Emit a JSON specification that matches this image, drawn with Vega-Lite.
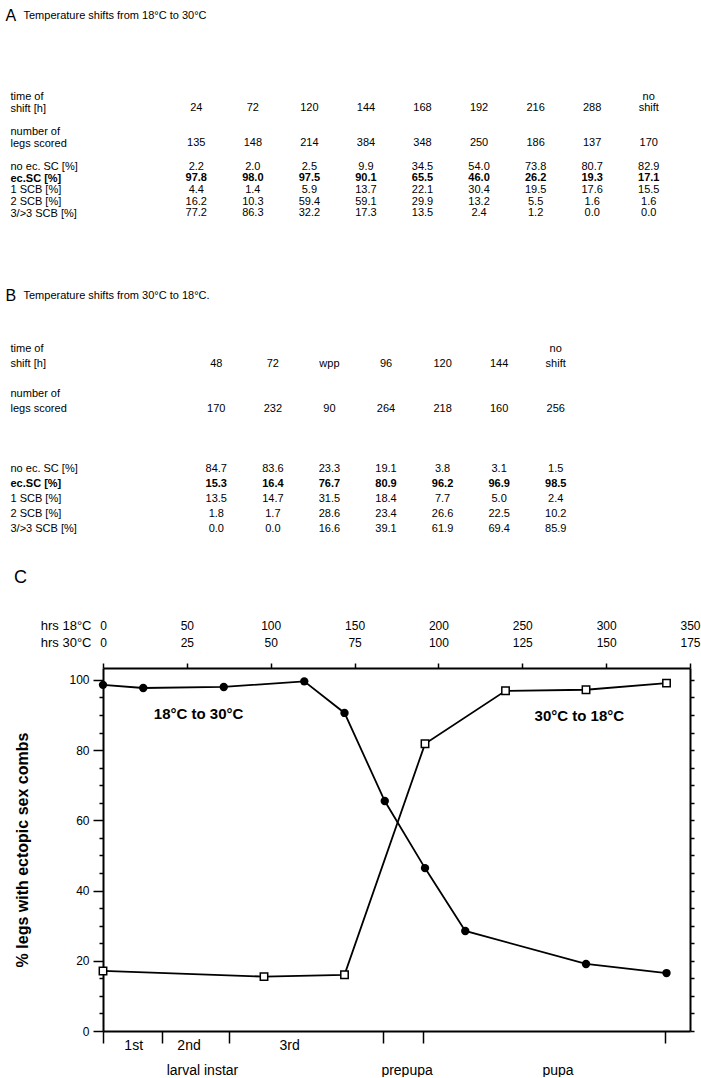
{
  "$schema": "https://vega.github.io/schema/vega-lite/v6.json",
  "padding": {"left": 5, "top": 7, "right": 0, "bottom": 0},
  "background": "white",
  "spacing": 33,
  "config": {
    "font": "Liberation Sans",
    "view": {"stroke": null},
    "axis": {"domainColor": "black", "tickColor": "black", "labelColor": "black", "titleColor": "black", "grid": false}
  },
  "datasets": {
    "tabA": [
      {"col": "24", "hdr0": "", "hdr": "24", "n": "135", "noec": "2.2", "ec": "97.8", "s1": "4.4", "s2": "16.2", "s3": "77.2"},
      {"col": "72", "hdr0": "", "hdr": "72", "n": "148", "noec": "2.0", "ec": "98.0", "s1": "1.4", "s2": "10.3", "s3": "86.3"},
      {"col": "120", "hdr0": "", "hdr": "120", "n": "214", "noec": "2.5", "ec": "97.5", "s1": "5.9", "s2": "59.4", "s3": "32.2"},
      {"col": "144", "hdr0": "", "hdr": "144", "n": "384", "noec": "9.9", "ec": "90.1", "s1": "13.7", "s2": "59.1", "s3": "17.3"},
      {"col": "168", "hdr0": "", "hdr": "168", "n": "348", "noec": "34.5", "ec": "65.5", "s1": "22.1", "s2": "29.9", "s3": "13.5"},
      {"col": "192", "hdr0": "", "hdr": "192", "n": "250", "noec": "54.0", "ec": "46.0", "s1": "30.4", "s2": "13.2", "s3": "2.4"},
      {"col": "216", "hdr0": "", "hdr": "216", "n": "186", "noec": "73.8", "ec": "26.2", "s1": "19.5", "s2": "5.5", "s3": "1.2"},
      {"col": "288", "hdr0": "", "hdr": "288", "n": "137", "noec": "80.7", "ec": "19.3", "s1": "17.6", "s2": "1.6", "s3": "0.0"},
      {"col": "none", "hdr0": "no", "hdr": "shift", "n": "170", "noec": "82.9", "ec": "17.1", "s1": "15.5", "s2": "1.6", "s3": "0.0"}
    ],
    "tabB": [
      {"col": "48", "hdr0": "", "hdr": "48", "n": "170", "noec": "84.7", "ec": "15.3", "s1": "13.5", "s2": "1.8", "s3": "0.0"},
      {"col": "72", "hdr0": "", "hdr": "72", "n": "232", "noec": "83.6", "ec": "16.4", "s1": "14.7", "s2": "1.7", "s3": "0.0"},
      {"col": "wpp", "hdr0": "", "hdr": "wpp", "n": "90", "noec": "23.3", "ec": "76.7", "s1": "31.5", "s2": "28.6", "s3": "16.6"},
      {"col": "96", "hdr0": "", "hdr": "96", "n": "264", "noec": "19.1", "ec": "80.9", "s1": "18.4", "s2": "23.4", "s3": "39.1"},
      {"col": "120", "hdr0": "", "hdr": "120", "n": "218", "noec": "3.8", "ec": "96.2", "s1": "7.7", "s2": "26.6", "s3": "61.9"},
      {"col": "144", "hdr0": "", "hdr": "144", "n": "160", "noec": "3.1", "ec": "96.9", "s1": "5.0", "s2": "22.5", "s3": "69.4"},
      {"col": "none", "hdr0": "no", "hdr": "shift", "n": "256", "noec": "1.5", "ec": "98.5", "s1": "2.4", "s2": "10.2", "s3": "85.9"}
    ],
    "curve": [
      {"series": "18to30", "h": 0, "pct": 98.6},
      {"series": "18to30", "h": 24, "pct": 97.7},
      {"series": "18to30", "h": 72, "pct": 98.0},
      {"series": "18to30", "h": 120, "pct": 99.6},
      {"series": "18to30", "h": 144, "pct": 90.6},
      {"series": "18to30", "h": 168, "pct": 65.5},
      {"series": "18to30", "h": 192, "pct": 46.4},
      {"series": "18to30", "h": 216, "pct": 28.5},
      {"series": "18to30", "h": 288, "pct": 19.1},
      {"series": "18to30", "h": 336, "pct": 16.5},
      {"series": "30to18", "h": 0, "pct": 17.1},
      {"series": "30to18", "h": 96, "pct": 15.5},
      {"series": "30to18", "h": 144, "pct": 16.0},
      {"series": "30to18", "h": 192, "pct": 81.8},
      {"series": "30to18", "h": 240, "pct": 96.9},
      {"series": "30to18", "h": 288, "pct": 97.2},
      {"series": "30to18", "h": 336, "pct": 99.1}
    ]
  },
  "vconcat": [
    {
      "width": 587,
      "height": 163,
      "data": {"name": "tabA"},
      "transform": [{"fold": ["hdr0", "hdr", "n", "noec", "ec", "s1", "s2", "s3"], "as": ["key", "val"]}],
      "encoding": {
        "x": {
          "field": "col", "type": "nominal",
          "scale": {"type": "point", "domain": ["24", "72", "120", "144", "168", "192", "216", "288", "none"], "range": [65, 574]},
          "axis": {"orient": "top", "labels": false, "ticks": false, "domain": false, "title": "Temperature shifts from 18°C to 30°C", "titleX": -80, "titleY": -76, "titleAlign": "left", "titleAnchor": "start", "titleBaseline": "middle", "titleFontSize": 11, "titleFontWeight": "normal", "titleAngle": 0}
        },
        "y": {
          "field": "key", "type": "nominal",
          "scale": {"type": "point", "padding": 0.5, "domain": ["hdr0", "hdr", "g1", "n0", "n", "g2", "noec", "ec", "s1", "s2", "s3", "g3", "g4", "g5"]},
          "axis": {"orient": "left", "domain": false, "ticks": false, "tickSize": 0, "labelAlign": "left", "labelPadding": 93, "labelFontSize": 11, "labelBaseline": "middle",
            "labelFontWeight": {"condition": {"test": "datum.value == 'ec'", "value": "bold"}, "value": "normal"},
            "labelExpr": "datum.value == 'hdr0' ? 'time of' : datum.value == 'hdr' ? 'shift [h]' : datum.value == 'n0' ? 'number of' : datum.value == 'n' ? 'legs scored' : datum.value == 'noec' ? 'no ec. SC [%]' : datum.value == 'ec' ? 'ec.SC [%]' : datum.value == 's1' ? '1 SCB [%]' : datum.value == 's2' ? '2 SCB [%]' : datum.value == 's3' ? '3/>3 SCB [%]' : ''",
            "title": "A", "titleX": -98, "titleY": -76, "titleAngle": 0, "titleAlign": "left", "titleBaseline": "middle", "titleFontSize": 16, "titleFontWeight": "normal"}
        },
        "text": {"field": "val"}
      },
      "layer": [
        {"transform": [{"filter": "datum.key != 'ec'"}], "mark": {"type": "text", "fontSize": 11, "color": "black"}},
        {"transform": [{"filter": "datum.key == 'ec'"}], "mark": {"type": "text", "fontSize": 11, "fontWeight": "bold", "color": "black"}}
      ]
    },
    {
      "width": 587,
      "height": 195,
      "data": {"name": "tabB"},
      "transform": [{"fold": ["hdr0", "hdr", "n", "noec", "ec", "s1", "s2", "s3"], "as": ["key", "val"]}],
      "encoding": {
        "x": {
          "field": "col", "type": "nominal",
          "scale": {"type": "point", "domain": ["48", "72", "wpp", "96", "120", "144", "none"], "range": [85, 481]},
          "axis": {"orient": "top", "labels": false, "ticks": false, "domain": false, "title": "Temperature shifts from 30°C to 18°C.", "titleX": -80, "titleY": -45.5, "titleAlign": "left", "titleAnchor": "start", "titleBaseline": "middle", "titleFontSize": 11, "titleFontWeight": "normal", "titleAngle": 0}
        },
        "y": {
          "field": "key", "type": "nominal",
          "scale": {"type": "point", "padding": 0.5, "domain": ["hdr0", "hdr", "g1", "n0", "n", "g2", "g3", "g4", "noec", "ec", "s1", "s2", "s3"]},
          "axis": {"orient": "left", "domain": false, "ticks": false, "tickSize": 0, "labelAlign": "left", "labelPadding": 93, "labelFontSize": 11, "labelBaseline": "middle",
            "labelFontWeight": {"condition": {"test": "datum.value == 'ec'", "value": "bold"}, "value": "normal"},
            "labelExpr": "datum.value == 'hdr0' ? 'time of' : datum.value == 'hdr' ? 'shift [h]' : datum.value == 'n0' ? 'number of' : datum.value == 'n' ? 'legs scored' : datum.value == 'noec' ? 'no ec. SC [%]' : datum.value == 'ec' ? 'ec.SC [%]' : datum.value == 's1' ? '1 SCB [%]' : datum.value == 's2' ? '2 SCB [%]' : datum.value == 's3' ? '3/>3 SCB [%]' : ''",
            "title": "B", "titleX": -98, "titleY": -45.5, "titleAngle": 0, "titleAlign": "left", "titleBaseline": "middle", "titleFontSize": 16, "titleFontWeight": "normal"}
        },
        "text": {"field": "val"}
      },
      "layer": [
        {"transform": [{"filter": "datum.key != 'ec'"}], "mark": {"type": "text", "fontSize": 11, "color": "black"}},
        {"transform": [{"filter": "datum.key == 'ec'"}], "mark": {"type": "text", "fontSize": 11, "fontWeight": "bold", "color": "black"}}
      ]
    },
    {
      "width": 587,
      "height": 363,
      "title": {"text": "C", "anchor": "start", "fontSize": 18, "fontWeight": "normal", "offset": 32, "frame": "bounds", "color": "black"},
      "data": {"name": "curve"},
      "layer": [
        {
          "mark": {"type": "line", "color": "black", "strokeWidth": 1.8},
          "encoding": {
            "x": {"field": "h", "type": "quantitative", "scale": {"domain": [0, 350], "nice": false, "zero": false},
              "axis": {"orient": "bottom", "values": [0, 18, 35, 51, 59, 75, 111, 167, 181, 191, 271, 335],
                "labelExpr": "datum.value == 18 ? '1st' : datum.value == 51 ? '2nd' : datum.value == 111 ? '3rd' : datum.value == 59 ? ['', 'larval instar'] : datum.value == 181 ? ['', 'prepupa'] : datum.value == 271 ? ['', 'pupa'] : ''",
                "tickOpacity": {"condition": {"test": "indexof([0, 35, 75, 167, 191, 335], datum.value) >= 0", "value": 1}, "value": 0},
                "tickSize": 12, "tickWidth": 1.5, "domainWidth": 2, "labelFontSize": 14, "labelPadding": -5, "labelLineHeight": 25, "labelBaseline": "top",
                "labelOverlap": false, "labelFlush": false, "labelBound": false, "title": null}},
            "y": {"field": "pct", "type": "quantitative", "scale": {"domain": [0, 103.4], "nice": false},
              "axis": {"orient": "left", "values": [0, 5, 10, 15, 20, 25, 30, 35, 40, 45, 50, 55, 60, 65, 70, 75, 80, 85, 90, 95, 100],
                "labelExpr": "datum.value % 20 == 0 ? datum.label : ''",
                "tickSize": {"condition": {"test": "datum.value % 20 == 0", "value": 10}, "value": 4},
                "tickWidth": 1.5, "domainWidth": 2, "labelFontSize": 12, "labelPadding": 4, "labelOverlap": false, "labelFlush": false, "labelBound": false,
                "title": "% legs with ectopic sex combs", "titleX": -81, "titleY": 181.5, "titleAngle": -90, "titleAlign": "center", "titleBaseline": "middle", "titleFontSize": 16, "titleFontWeight": "bold"}},
            "detail": {"field": "series"}
          }
        },
        {
          "transform": [{"filter": "datum.series == '18to30'"}],
          "mark": {"type": "point", "shape": "circle", "filled": true, "color": "black", "size": 70, "opacity": 1},
          "encoding": {
            "x": {"field": "h", "type": "quantitative",
              "axis": {"orient": "top", "values": [0, 50, 100, 150, 200, 250, 300, 350],
                "labelExpr": "[datum.label, format(datum.value / 2, 'd')]",
                "labelFontSize": 12, "labelLineHeight": 17, "labelPadding": 31, "tickSize": 5, "tickWidth": 1.5, "domainWidth": 2,
                "labelFlush": false, "labelOverlap": false, "labelBound": false,
                "title": ["hrs 18°C", "hrs 30°C"], "titleX": -12, "titleY": -36, "titleAlign": "right", "titleBaseline": "bottom", "titleAngle": 0, "titleFontSize": 13, "titleFontWeight": "normal", "titleLineHeight": 17}},
            "y": {"field": "pct", "type": "quantitative",
              "axis": {"orient": "right", "values": [0, 5, 10, 15, 20, 25, 30, 35, 40, 45, 50, 55, 60, 65, 70, 75, 80, 85, 90, 95, 100], "labels": false, "tickSize": 4, "tickWidth": 1.5, "domainWidth": 2, "title": null}}
          }
        },
        {
          "transform": [{"filter": "datum.series == '30to18'"}],
          "mark": {"type": "point", "shape": "square", "filled": true, "fill": "white", "stroke": "black", "strokeWidth": 1.5, "size": 55, "opacity": 1},
          "encoding": {
            "x": {"field": "h", "type": "quantitative", "axis": null},
            "y": {"field": "pct", "type": "quantitative", "axis": null}
          }
        },
        {
          "data": {"values": [{}]},
          "mark": {"type": "text", "fontSize": 15, "fontWeight": "bold", "color": "black", "text": "18°C to 30°C"},
          "encoding": {
            "x": {"datum": 57, "type": "quantitative", "axis": null},
            "y": {"datum": 90.3, "type": "quantitative", "axis": null}
          }
        },
        {
          "data": {"values": [{}]},
          "mark": {"type": "text", "fontSize": 15, "fontWeight": "bold", "color": "black", "text": "30°C to 18°C"},
          "encoding": {
            "x": {"datum": 284, "type": "quantitative", "axis": null},
            "y": {"datum": 89.7, "type": "quantitative", "axis": null}
          }
        }
      ],
      "resolve": {"axis": {"x": "independent", "y": "independent"}}
    }
  ]
}
